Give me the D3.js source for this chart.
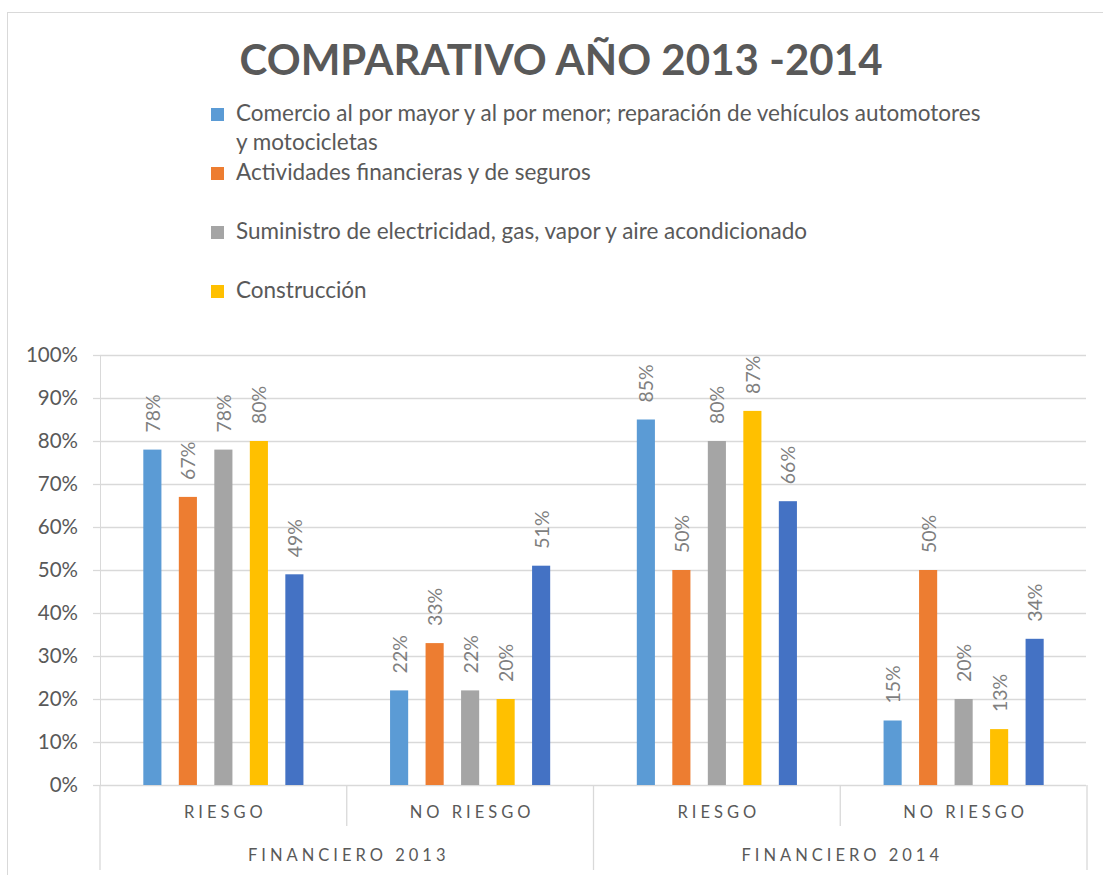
<!DOCTYPE html>
<html>
<head>
<meta charset="utf-8">
<script src="https://cdn.jsdelivr.net/npm/d3@7"></script>
<style>
    body { margin: 0; background: #fff; }
    svg { display: block; font-family: Lato, "Open Sans", sans-serif; }
</style>
</head>
<body>
<div id="chart"></div>
<script>
const [WIDTH, HEIGHT] = [1103, 875]
const MARGIN = {
    left: 100,
    right: 16,
    top: 355,
    bottom: 90,
}

const title = 'COMPARATIVO AÑO 2013 -2014'
const groups = ['FINANCIERO 2013', 'FINANCIERO 2014']
const categories = ['RIESGO', 'NO RIESGO', 'RIESGO', 'NO RIESGO']
const seriesNames = [
    'Comercio al por mayor y al por menor; reparación de vehículos automotores y motocicletas',
    'Actividades financieras y de seguros',
    'Suministro de electricidad, gas, vapor y aire acondicionado',
    'Construcción',
    '', // fifth series has no legend entry in the original
]
const seriesColors = ['#5B9BD5', '#ED7D31', '#A5A5A5', '#FFC000', '#4472C4']

// values per category, in series order
const riesgo2013 = [0.78, 0.67, 0.78, 0.80, 0.49]
const noRiesgo2013 = [0.22, 0.33, 0.22, 0.20, 0.51]
const riesgo2014 = [0.85, 0.50, 0.80, 0.87, 0.66]
const noRiesgo2014 = [0.15, 0.50, 0.20, 0.13, 0.34]
const values = [riesgo2013, noRiesgo2013, riesgo2014, noRiesgo2014]

const yTicks = [0, 0.1, 0.2, 0.3, 0.4, 0.5, 0.6, 0.7, 0.8, 0.9, 1]

const TEXT = '#595959'
const GRID = '#D9D9D9'

function main() {
    const svg = d3.select('#chart').append('svg')
        .attr('width', WIDTH)
        .attr('height', HEIGHT)
        .attr('viewBox', [0, 0, WIDTH, HEIGHT])

    // chart area border (runs off the right / bottom of the picture)
    svg.append('rect')
        .attr('x', 7.5).attr('y', 12.5)
        .attr('width', WIDTH + 20).attr('height', HEIGHT + 20)
        .attr('fill', 'none')
        .attr('stroke', GRID)

    svg.append('text')
        .attr('x', 561)
        .attr('y', 75)
        .attr('text-anchor', 'middle')
        .attr('font-weight', 'bold')
        .attr('font-size', 42)
        .attr('fill', TEXT)
        .attr('textLength', 643)
        .attr('lengthAdjust', 'spacing')
        .text(title)

    drawLegend(svg)
    drawChart(svg)
}

function drawLegend(svg) {
    const legend = svg.append('g').attr('transform', 'translate(211,0)')
    const rowY = d3.scaleLinear([0, 3], [114, 291])
    const maxWidth = 750

    seriesNames.forEach((name, i) => {
        if (!name) return
        const g = legend.append('g').attr('transform', `translate(0,${rowY(i)})`)
        g.append('rect')
            .attr('x', 0).attr('y', -6)
            .attr('width', 13).attr('height', 13)
            .attr('fill', seriesColors[i])
        const text = g.append('text')
            .attr('x', 25)
            .attr('y', 7)
            .attr('font-size', 22.5)
            .attr('fill', TEXT)

        // simple word wrap
        const words = name.split(' ')
        let line = []
        let tspan = text.append('tspan').attr('x', 25).attr('dy', 0)
        for (const w of words) {
            line.push(w)
            tspan.text(line.join(' '))
            if (tspan.node().getComputedTextLength() > maxWidth && line.length > 1) {
                line.pop()
                tspan.text(line.join(' '))
                line = [w]
                tspan = text.append('tspan').attr('x', 25).attr('dy', 29).text(w)
            }
        }
    })
}

function drawChart(svg) {
    const xRange = [MARGIN.left, WIDTH - MARGIN.right]
    const yRange = [HEIGHT - MARGIN.bottom, MARGIN.top]

    const x0 = d3.scaleBand(d3.range(categories.length), xRange)
    const x1 = d3.scaleBand(d3.range(seriesColors.length), [0, x0.bandwidth()])
        .paddingInner(0.49)
        .paddingOuter(1.22)
    const xGroup = d3.scaleBand(d3.range(groups.length), xRange)
    const y = d3.scaleLinear([0, 1], yRange)

    // gridlines + y labels
    const yAxis = d3.axisLeft(y)
        .tickValues(yTicks)
        .tickFormat(d3.format('.0%'))
        .tickSize(7)
        .tickPadding(15)

    svg.append('g')
        .attr('transform', `translate(${MARGIN.left},0)`)
        .call(yAxis)
        .call(g => g.select('.domain').attr('stroke', GRID).attr('d', `M0.5,${yRange[1]}V${yRange[0]}`))
        .call(g => g.selectAll('.tick line').attr('stroke', GRID).attr('stroke-width', 1.3))
        .call(g => g.selectAll('.tick line').clone()
            .attr('x2', xRange[1] - xRange[0] - 1)
            .attr('x1', 0))
        .call(g => g.selectAll('.tick text')
            .attr('fill', TEXT)
            .attr('font-size', 20.5)
            .attr('font-family', 'Lato, sans-serif'))

    // bars
    const bars = svg.append('g')
    values.forEach((vals, c) => {
        const g = bars.append('g').attr('transform', `translate(${x0(c)},0)`)
        g.selectAll('rect')
            .data(vals)
            .join('rect')
            .attr('x', (d, i) => x1(i))
            .attr('y', d => y(d))
            .attr('width', x1.bandwidth())
            .attr('height', d => y(0) - y(d))
            .attr('fill', (d, i) => seriesColors[i])

        g.selectAll('text')
            .data(vals)
            .join('text')
            .attr('transform', (d, i) => `translate(${x1(i) + x1.bandwidth() / 2},${y(d) - 17}) rotate(-90)`)
            .attr('dominant-baseline', 'central')
            .attr('font-size', 19.5)
            .attr('fill', '#7F7F7F')
            .text(d => d3.format('.0%')(d))
    })

    // two-level category axis
    const axis = svg.append('g').attr('stroke', GRID).attr('stroke-width', 1.3)
    const bottom = y(0)
    d3.range(categories.length + 1).forEach(i => {
        const xp = i < categories.length ? x0(i) : xRange[1]
        const full = i % 2 === 0
        axis.append('line')
            .attr('x1', xp).attr('x2', xp)
            .attr('y1', bottom).attr('y2', full ? 870 : 826)
    })

    svg.append('g').selectAll('text')
        .data(categories)
        .join('text')
        .attr('x', (d, i) => x0(i) + x0.bandwidth() / 2 + 2)
        .attr('y', 818)
        .attr('text-anchor', 'middle')
        .attr('font-size', 16.5)
        .attr('letter-spacing', 4)
        .attr('fill', TEXT)
        .text(d => d)

    svg.append('g').selectAll('text')
        .data(groups)
        .join('text')
        .attr('x', (d, i) => xGroup(i) + xGroup.bandwidth() / 2 + 2)
        .attr('y', 861)
        .attr('text-anchor', 'middle')
        .attr('font-size', 16.5)
        .attr('letter-spacing', 4)
        .attr('fill', TEXT)
        .text(d => d)
}

main()
</script>
</body>
</html>
